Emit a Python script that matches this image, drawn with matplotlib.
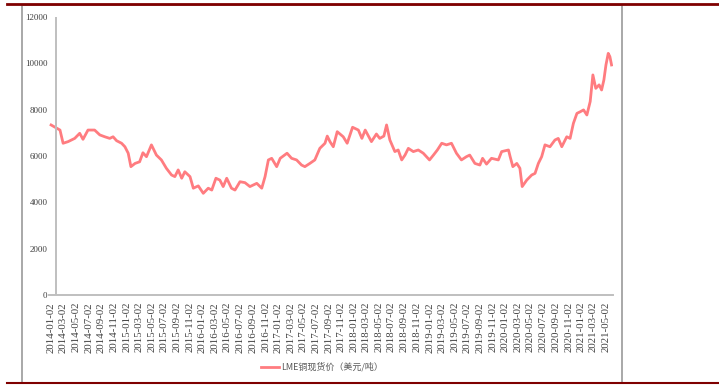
import pandas as pd
import matplotlib.pyplot as plt
import matplotlib.dates as mdates
from matplotlib.lines import Line2D
from matplotlib.patches import Rectangle

dates = [
    "2014-01-02", "2014-01-29", "2014-02-14", "2014-03-01", "2014-03-25", "2014-04-26",
    "2014-05-20", "2014-06-05", "2014-06-29", "2014-07-31", "2014-08-25", "2014-09-18",
    "2014-10-12", "2014-10-28", "2014-11-14", "2014-12-08", "2014-12-24", "2015-01-09",
    "2015-01-22", "2015-02-11", "2015-03-05", "2015-03-21", "2015-04-07", "2015-05-01",
    "2015-05-25", "2015-06-18", "2015-07-12", "2015-08-06", "2015-08-22", "2015-09-07",
    "2015-09-24", "2015-10-09", "2015-11-03", "2015-11-19", "2015-12-13", "2016-01-06",
    "2016-01-30", "2016-02-16", "2016-03-07", "2016-03-26", "2016-04-11", "2016-04-28",
    "2016-05-21", "2016-06-07", "2016-07-01", "2016-07-25", "2016-08-18", "2016-09-20",
    "2016-10-14", "2016-10-30", "2016-11-15", "2016-12-01", "2016-12-25", "2017-01-11",
    "2017-02-13", "2017-03-07", "2017-03-31", "2017-04-24", "2017-05-10", "2017-06-03",
    "2017-06-27", "2017-07-21", "2017-08-15", "2017-08-26", "2017-09-08", "2017-09-24",
    "2017-10-13", "2017-11-11", "2017-11-30", "2017-12-26", "2018-01-23", "2018-02-09",
    "2018-02-25", "2018-03-27", "2018-04-20", "2018-05-06", "2018-05-26", "2018-06-08",
    "2018-06-24", "2018-07-18", "2018-08-03", "2018-08-20", "2018-09-05", "2018-09-21",
    "2018-10-15", "2018-11-08", "2018-12-02", "2019-01-01", "2019-01-20", "2019-02-08",
    "2019-03-01", "2019-03-24", "2019-04-17", "2019-05-11", "2019-06-04", "2019-06-28",
    "2019-07-14", "2019-08-08", "2019-09-01", "2019-09-14", "2019-10-03", "2019-10-27",
    "2019-11-29", "2019-12-15", "2020-01-17", "2020-01-25", "2020-02-07", "2020-02-26",
    "2020-03-12", "2020-03-23", "2020-04-14", "2020-05-08", "2020-05-24", "2020-06-09",
    "2020-06-25", "2020-07-11", "2020-08-04", "2020-08-28", "2020-09-13", "2020-09-30",
    "2020-10-24", "2020-11-09", "2020-11-25", "2020-12-12", "2020-12-28", "2021-01-13",
    "2021-01-29", "2021-02-14", "2021-02-27", "2021-03-13", "2021-03-29", "2021-04-10",
    "2021-04-21", "2021-05-01", "2021-05-12", "2021-05-20", "2021-05-28",
]
price = [
    7340, 7200, 7120, 6550, 6620, 6760,
    6980, 6720, 7120, 7120, 6910, 6830,
    6760, 6830, 6660, 6550, 6400, 6120,
    5540, 5680, 5750, 6140, 5970, 6480,
    6040, 5830, 5470, 5180, 5110, 5400,
    5040, 5320, 5110, 4610, 4710, 4390,
    4610, 4530, 5040, 4960, 4680, 5040,
    4610, 4530, 4890, 4850, 4680, 4820,
    4610, 5110, 5830, 5900, 5540, 5900,
    6120, 5900, 5830, 5610, 5540, 5680,
    5830, 6330, 6550, 6860, 6620, 6400,
    7050, 6830, 6550, 7240, 7120, 6760,
    7120, 6620, 6950, 6760, 6860, 7340,
    6690, 6190, 6260, 5830, 6040, 6330,
    6190, 6260, 6120, 5830, 6040, 6260,
    6550, 6480, 6550, 6120, 5830, 5970,
    6040, 5680, 5610, 5900, 5650, 5900,
    5830, 6190, 6260, 5970, 5540, 5680,
    5470, 4680, 4960, 5180, 5250, 5680,
    5970, 6480, 6400, 6690, 6760, 6400,
    6830, 6760, 7410, 7840, 7910, 7990,
    7770, 8350, 9500, 8920, 9070, 8850,
    9280, 9930, 10430, 10290, 9930,
]
tick_dates = pd.date_range("2014-01-01", "2021-05-01", freq="2MS") + pd.Timedelta(days=1)
series_name = "LME铜现货价（美元/吨）"

x = pd.to_datetime(dates)
line_color = "#ff7c80"
axis_gray = "#bfbfbf"

fig = plt.figure(figsize=(7.19, 3.85), dpi=100)
ax = fig.add_axes([49 / 719, 90 / 385, 564 / 719, 278 / 385])

ax.plot(x, price, color=line_color, lw=2.0, solid_joinstyle="round")

ax.set_xlim(pd.Timestamp("2013-12-23"), pd.Timestamp("2021-06-04"))
ax.set_ylim(0, 12000)
ax.set_yticks(range(0, 12001, 2000))
ax.set_xticks(tick_dates)
ax.xaxis.set_major_formatter(mdates.DateFormatter("%Y-%m-%d"))

for s in ["top", "right", "left"]:
    ax.spines[s].set_visible(False)
ax.spines["bottom"].set_color(axis_gray)
ax.spines["bottom"].set_linewidth(1.4)
ax.axvline(pd.Timestamp("2014-01-26"), color=axis_gray, lw=1.4)

ax.tick_params(axis="both", length=0, colors="#404040")
ax.tick_params(axis="y", pad=1)
ax.tick_params(axis="x", pad=5)
for lab in ax.get_yticklabels():
    lab.set_family("Liberation Serif")
    lab.set_fontsize(6.5)
for lab in ax.get_xticklabels():
    lab.set_family("Liberation Serif")
    lab.set_fontsize(7.8)
    lab.set_rotation(90)

handle = Line2D([0], [0], color=line_color, lw=2)
fig.legend([handle], [series_name], loc="center",
           bbox_to_anchor=(322 / 719, 1 - 367 / 385), frameon=False,
           handlelength=2.0, handletextpad=0.3,
           prop={"family": ["Noto Sans CJK SC", "DejaVu Sans"], "size": 6.5},
           labelcolor="#595959")

# outer frame and red rules
fig.add_artist(Rectangle((22 / 719, 2 / 385), 600 / 719, 378 / 385,
                         transform=fig.transFigure, fill=False,
                         edgecolor="#9a9a9a", lw=1.2))
fig.add_artist(Line2D([7 / 719, 1], [1 - 4 / 385] * 2, transform=fig.transFigure,
                      color="#7f0000", lw=2))
fig.add_artist(Line2D([7 / 719, 1], [2 / 385] * 2, transform=fig.transFigure,
                      color="#7f0000", lw=1.5))

fig.savefig("out.png", dpi=100)
